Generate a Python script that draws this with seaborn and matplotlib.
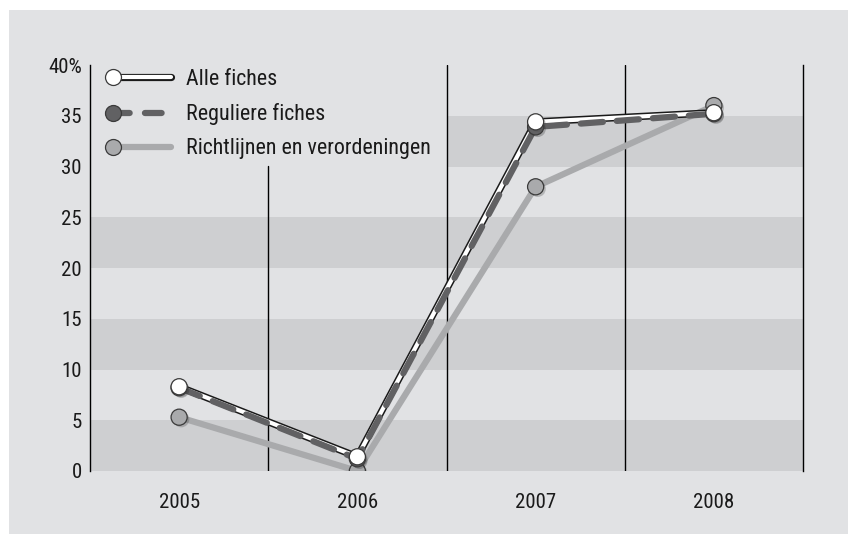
import numpy as np
import pandas as pd
import matplotlib
matplotlib.use('Agg')
import matplotlib.pyplot as plt
import matplotlib.patheffects as pe
from matplotlib import font_manager
import seaborn as sns
from matplotlib.patches import Rectangle
from matplotlib.lines import Line2D
from matplotlib.legend_handler import HandlerLine2D

# data
years = [2005, 2006, 2007, 2008]
alle = [8.3, 1.4, 34.4, 35.3]
reguliere = [8.2, 1.2, 33.9, 35.2]
richtlijnen = [5.3, 0.0, 28.0, 36.0]
labels = ['Alle fiches', 'Reguliere fiches', 'Richtlijnen en verordeningen']
yticks = [0, 5, 10, 15, 20, 25, 30, 35, 40]
ytick_labels = ['0', '5', '10', '15', '20', '25', '30', '35', '40%']

sns.set_style('white')

# pick a condensed face if one is installed
installed = {f.name for f in font_manager.fontManager.ttflist}
font = 'Liberation Sans'
for cand in ['Liberation Sans Narrow', 'Roboto Condensed', 'Open Sans Condensed',
             'Noto Sans Condensed', 'DejaVu Sans Condensed']:
    if cand in installed:
        font = cand
        break
plt.rcParams['font.family'] = [font, 'DejaVu Sans']
plt.rcParams['lines.scale_dashes'] = False

panel = '#e1e2e4'
band = '#cecfd1'
c_white, c_dark, c_gray = 'white', '#616163', '#a9aaac'
edge = '#3a3a3a'

df = pd.DataFrame({'year': years * 3,
                   'value': alle + reguliere + richtlijnen,
                   'serie': [labels[0]] * 4 + [labels[1]] * 4 + [labels[2]] * 4})

fig = plt.figure(figsize=(8.48, 5.34), dpi=100)
fig.patch.set_facecolor('white')
fig.patches.append(Rectangle((9 / 848, 0), 1, 1 - 10 / 534, transform=fig.transFigure,
                             facecolor=panel, edgecolor='none', zorder=-10))
ax = fig.add_axes([90 / 848, 1 - 471 / 534, 713 / 848, 406 / 534])
ax.set_facecolor(panel)

# horizontal bands
for lo in [0, 10, 20, 30]:
    ax.axhspan(lo, lo + 5, color=band, zorder=0.5, lw=0)
# legend background hides part of the bands
ax.add_patch(Rectangle((2004.5, 29.9), 2.0, 10.2, facecolor=panel, edgecolor='none', zorder=0.8))

ax.axvline(2005.5, ymin=0, ymax=0.752, color='black', lw=1, zorder=1)
for xv in [2006.5, 2007.5]:
    ax.axvline(xv, color='black', lw=1, zorder=1)

marker_fx = [pe.SimplePatchShadow(offset=(1.5, -1.5), alpha=0.25), pe.Normal()]
white_fx = [pe.Stroke(linewidth=5.2, foreground='#1a1a1a'), pe.Normal()]

# lines
sub = df[df.serie == labels[2]]
sns.lineplot(data=sub, x='year', y='value', color=c_gray, lw=4.5, ax=ax, zorder=2,
             solid_capstyle='round')
sub = df[df.serie == labels[0]]
sns.lineplot(data=sub, x='year', y='value', color=c_white, lw=3, ax=ax, zorder=3,
             path_effects=white_fx)
sub = df[df.serie == labels[1]]
sns.lineplot(data=sub, x='year', y='value', color=c_dark, lw=4.5, ax=ax, zorder=4,
             linestyle=(0, (16, 10)), dash_capstyle='round')

# markers
ms = 135
for lab, col, z in [(labels[2], c_gray, 5), (labels[1], c_dark, 6), (labels[0], c_white, 7)]:
    sns.scatterplot(data=df[df.serie == lab], x='year', y='value', color=col, s=ms,
                    edgecolor=edge, linewidth=0.9, ax=ax, zorder=z)
    ax.collections[-1].set_path_effects(marker_fx)

ax.set_xlim(2004.5, 2008.5)
ax.set_ylim(0, 40)
ax.set_xticks(years)
ax.set_xticklabels([str(y) for y in years])
ax.set_yticks(yticks)
ax.set_yticklabels(ytick_labels)
ax.tick_params(axis='both', length=0, labelsize=15, colors='#1a1a1a')
ax.tick_params(axis='y', pad=6)
ax.tick_params(axis='x', pad=16)
ax.set_xlabel('')
ax.set_ylabel('')
for s in ['top', 'bottom']:
    ax.spines[s].set_visible(False)
for s in ['left', 'right']:
    ax.spines[s].set_visible(True)
    ax.spines[s].set_color('black')
    ax.spines[s].set_linewidth(1)


class LeftMarkerHandler(HandlerLine2D):
    # line over the full handle, marker at its left end
    def create_artists(self, legend, orig_handle, xdescent, ydescent, width, height, fontsize, trans):
        x0, x1 = -xdescent, -xdescent + width
        y = (height - ydescent) / 2
        line = Line2D([x0, x1], [y, y])
        self.update_prop(line, orig_handle, legend)
        line.set_marker('None')
        line.set_transform(trans)
        mk = Line2D([x0], [y])
        self.update_prop(mk, orig_handle, legend)
        mk.set_linestyle('None')
        mk.set_path_effects([])
        mk.set_transform(trans)
        return [line, mk]


h_alle = Line2D([], [], color=c_white, lw=3, marker='o', markersize=11.5, markerfacecolor=c_white,
                markeredgecolor=edge, markeredgewidth=0.9, solid_capstyle='round', path_effects=white_fx)
h_reg = Line2D([], [], color=c_dark, lw=4.5, linestyle=(0, (12, 11)), marker='o', markersize=11.5,
               markerfacecolor=c_dark, markeredgecolor=edge, markeredgewidth=0.9, dash_capstyle='round')
h_ric = Line2D([], [], color=c_gray, lw=4.5, marker='o', markersize=11.5, markerfacecolor=c_gray,
               markeredgecolor=edge, markeredgewidth=0.9, solid_capstyle='round')
handler = LeftMarkerHandler()
leg = ax.legend([h_alle, h_reg, h_ric], labels, loc='upper left', bbox_to_anchor=(0.032, 0.99),
                frameon=False, fontsize=15.8, handlelength=2.65, handletextpad=0.68,
                labelspacing=0.6, borderpad=0, borderaxespad=0,
                handler_map={h_alle: handler, h_reg: handler, h_ric: handler})
for t in leg.get_texts():
    t.set_color('#1a1a1a')

fig.savefig('out.png', dpi=100, facecolor=fig.get_facecolor())
